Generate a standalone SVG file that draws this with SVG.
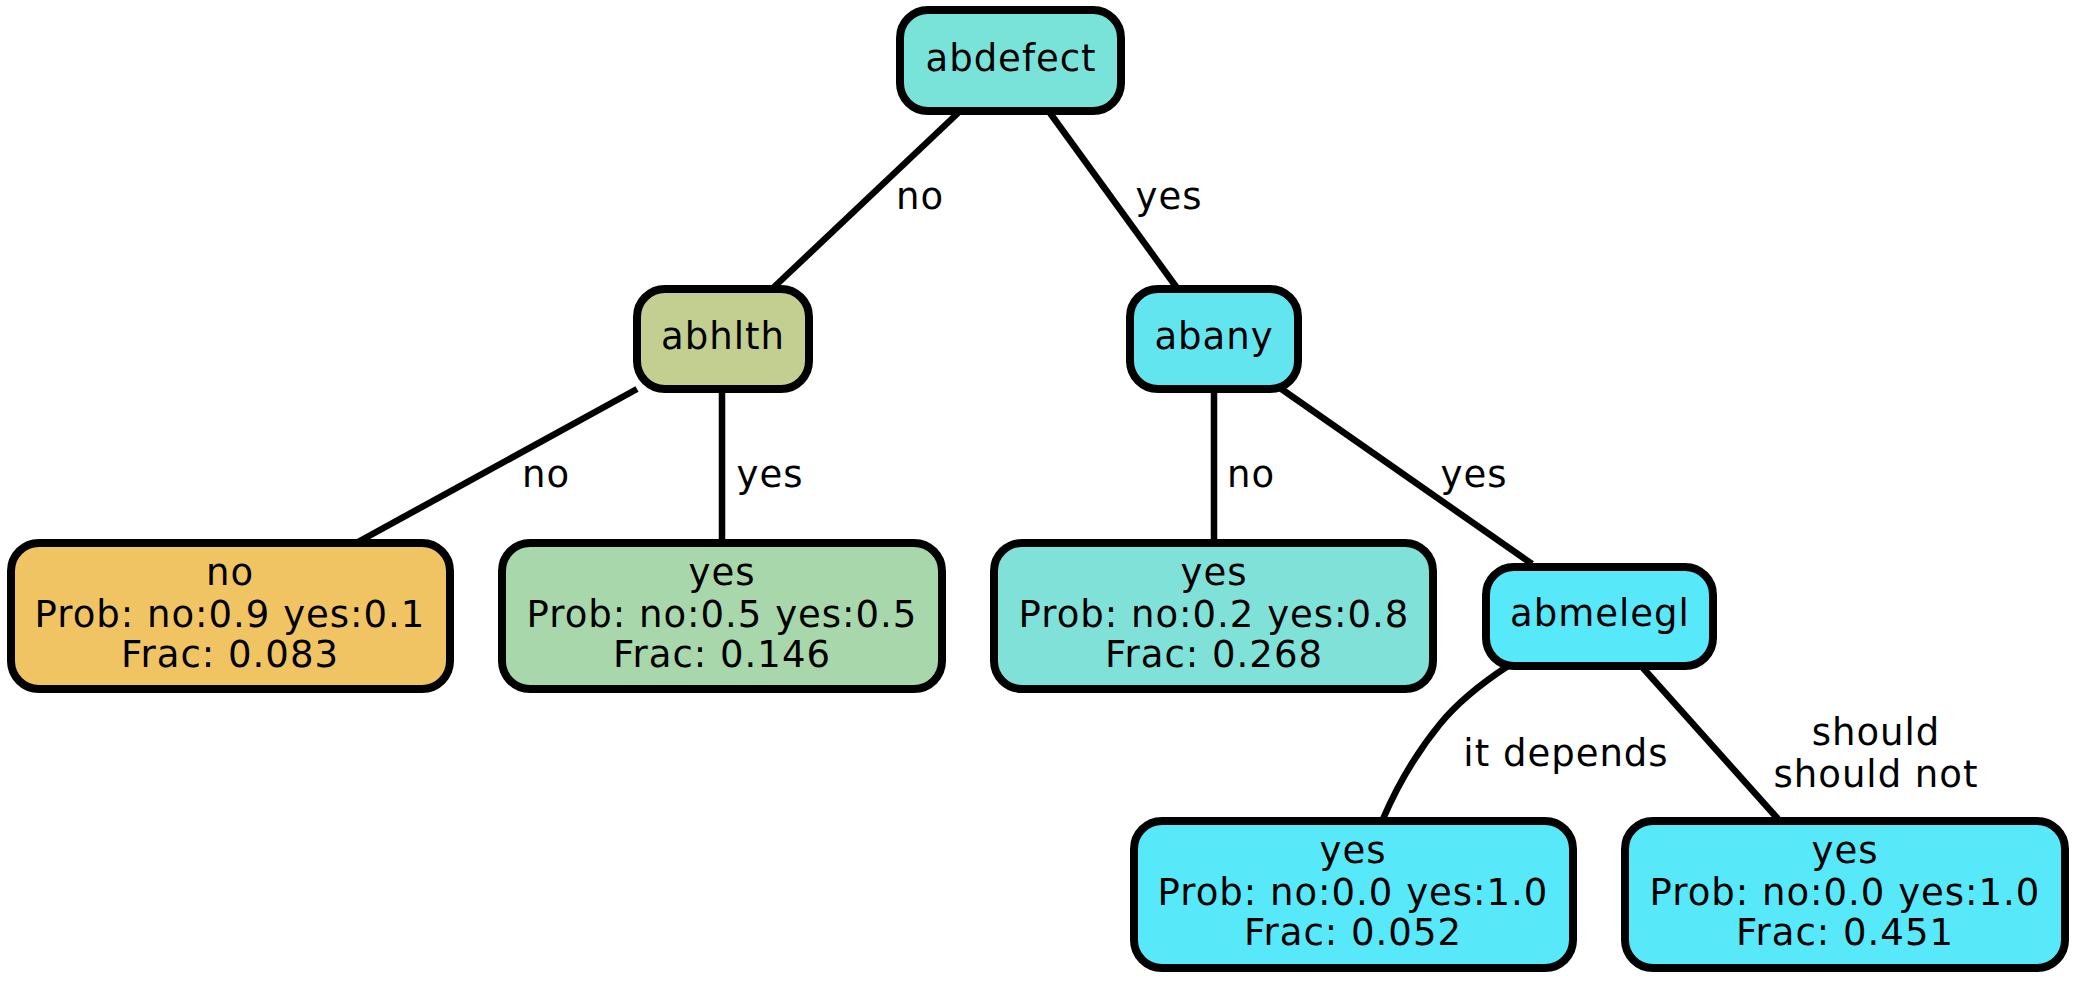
<svg xmlns="http://www.w3.org/2000/svg" width="2075" height="981" viewBox="0 0 2075 981">
<style>
.n{stroke:#000;stroke-width:8}
.t{font-family:"DejaVu Sans",sans-serif;font-size:37px;letter-spacing:1px;text-anchor:middle;fill:#000}
.e{fill:none;stroke:#000;stroke-width:6.5}
</style>
<rect width="2075" height="981" fill="#fff"/>
<g id="connectors">
<path class="e" d="M958,113 L773,288"/>
<path class="e" d="M1050,113 L1177,288"/>
<path class="e" d="M637,389 L358,542"/>
<path class="e" d="M722,389 L722,543"/>
<path class="e" d="M1214,389 L1214,543"/>
<path class="e" d="M1280,388 L1532,564"/>
<path class="e" d="M1508,666 C1482,683 1458,702 1440,724 C1418,751 1398,784 1383,819"/>
<path class="e" d="M1643,668 L1778,819"/>
<text class="t" x="920" y="209">no</text>
<text class="t" x="1169" y="209">yes</text>
<text class="t" x="546" y="487">no</text>
<text class="t" x="770" y="487">yes</text>
<text class="t" x="1251" y="487">no</text>
<text class="t" x="1474" y="487">yes</text>
<text class="t" x="1566" y="766">it depends</text>
<text class="t" x="1876" y="745">should</text>
<text class="t" x="1876" y="787">should not</text>
</g>
<g id="abdefect">
<rect class="n" x="900" y="10" width="221" height="101" rx="28" fill="#79E2D9"/>
<text class="t" x="1011" y="71">abdefect</text>
</g>
<g id="abhlth">
<rect class="n" x="637" y="289" width="172" height="100" rx="28" fill="#C2CF90"/>
<text class="t" x="723" y="349">abhlth</text>
</g>
<g id="abany">
<rect class="n" x="1130" y="289" width="168" height="100" rx="28" fill="#63E5EF"/>
<text class="t" x="1214" y="349">abany</text>
</g>
<g id="abmelegl">
<rect class="n" x="1486" y="567" width="227" height="99" rx="28" fill="#57E9FA"/>
<text class="t" x="1600" y="626">abmelegl</text>
</g>
<g id="leaf_no">
<rect class="n" x="11" y="543" width="439" height="146" rx="28" fill="#F0C463"/>
<text class="t" x="230" y="585">no</text>
<text class="t" x="230" y="627">Prob: no:0.9 yes:0.1</text>
<text class="t" x="230" y="667">Frac: 0.083</text>
</g>
<g id="leaf_abhlth_yes">
<rect class="n" x="502" y="543" width="440" height="146" rx="28" fill="#A7D7AB"/>
<text class="t" x="722" y="585">yes</text>
<text class="t" x="722" y="627">Prob: no:0.5 yes:0.5</text>
<text class="t" x="722" y="667">Frac: 0.146</text>
</g>
<g id="leaf_abany_no">
<rect class="n" x="994" y="543" width="439" height="146" rx="28" fill="#7FE1D7"/>
<text class="t" x="1214" y="585">yes</text>
<text class="t" x="1214" y="627">Prob: no:0.2 yes:0.8</text>
<text class="t" x="1214" y="667">Frac: 0.268</text>
</g>
<g id="leaf_depends">
<rect class="n" x="1134" y="821" width="439" height="147" rx="28" fill="#57E9FA"/>
<text class="t" x="1353" y="863">yes</text>
<text class="t" x="1353" y="905">Prob: no:0.0 yes:1.0</text>
<text class="t" x="1353" y="945">Frac: 0.052</text>
</g>
<g id="leaf_should">
<rect class="n" x="1625" y="821" width="440" height="147" rx="28" fill="#57E9FA"/>
<text class="t" x="1845" y="863">yes</text>
<text class="t" x="1845" y="905">Prob: no:0.0 yes:1.0</text>
<text class="t" x="1845" y="945">Frac: 0.451</text>
</g>
</svg>
